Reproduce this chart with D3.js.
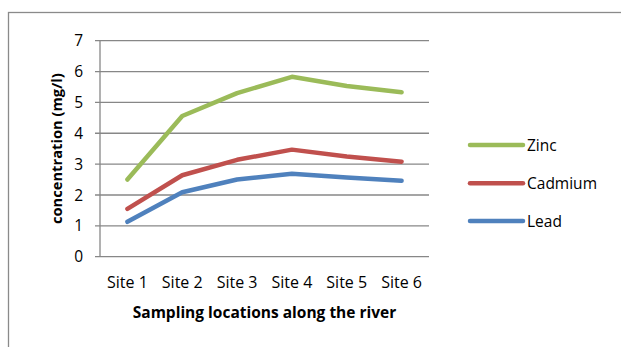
<!DOCTYPE html>
<html><head><meta charset="utf-8">
<script src="https://cdn.jsdelivr.net/npm/d3@7"></script>
<style>body{margin:0;background:#fff}svg{display:block}text{font-family:"Open Sans",sans-serif;fill:#000}</style>
</head><body><svg id="c" width="621" height="347"></svg>
<script>
const categories = ["Site 1","Site 2","Site 3","Site 4","Site 5","Site 6"];
const zinc    = [2.50, 4.56, 5.30, 5.83, 5.53, 5.33];
const cadmium = [1.55, 2.64, 3.14, 3.47, 3.25, 3.08];
const lead    = [1.13, 2.09, 2.50, 2.69, 2.57, 2.46];
const yTicks  = [0,1,2,3,4,5,6,7];
const seriesNames  = ["Zinc","Cadmium","Lead"];
const seriesColors = ["#9BBB59","#C0504D","#4F81BD"];
const seriesValues = [zinc, cadmium, lead];

const svg = d3.select("#c");
const grid = "#878787";
svg.append("rect").attr("x",8.5).attr("y",12.5).attr("width",800).attr("height",500)
  .attr("fill","none").attr("stroke","#8a8a8a").attr("stroke-width",1.3);

const L=100, R=429, T=40.7, B=256.7;
const x = d3.scaleBand().domain(categories).range([L,R]);
const y = d3.scaleLinear().domain([0,7]).range([B,T]);

svg.append("g").selectAll("line").data(yTicks).join("line")
  .attr("x1",L-5).attr("x2",R).attr("y1",d=>y(d)).attr("y2",d=>y(d))
  .attr("stroke",grid).attr("stroke-width",1.3);
svg.append("line").attr("x1",L).attr("x2",L).attr("y1",T).attr("y2",B)
  .attr("stroke",grid).attr("stroke-width",1.3);

svg.append("g").selectAll("text").data(yTicks).join("text")
  .attr("x",83).attr("y",d=>y(d)).attr("dy","0.36em").attr("text-anchor","end")
  .style("font-size","15.5px").text(d=>d);

svg.append("g").selectAll("text").data(categories).join("text")
  .attr("x",d=>x(d)+x.bandwidth()/2).attr("y",282).attr("dy","0.36em").attr("text-anchor","middle")
  .style("font-size","16px").text(d=>d);

svg.append("text").attr("x",(L+R)/2).attr("y",312).attr("dy","0.36em").attr("text-anchor","middle")
  .style("font-size","15.5px").style("font-weight","bold").text("Sampling locations along the river");
svg.append("text").attr("transform",`translate(57,${(T+B)/2}) rotate(-90)`).attr("dy","0.36em")
  .attr("text-anchor","middle").style("font-size","14.7px").style("font-weight","bold")
  .text("concentration (mg/l)");

const line = d3.line().x((d,i)=>x(categories[i])+x.bandwidth()/2).y(d=>y(d));
seriesValues.forEach((vals,k)=>{
  svg.append("path").attr("d",line(vals)).attr("fill","none")
    .attr("stroke",seriesColors[k]).attr("stroke-width",4.5)
    .attr("stroke-linecap","round").attr("stroke-linejoin","round");
});

const legY = [145,183.3,221];
seriesNames.forEach((n,k)=>{
  svg.append("line").attr("x1",470).attr("x2",523).attr("y1",legY[k]).attr("y2",legY[k])
    .attr("stroke",seriesColors[k]).attr("stroke-width",4.5).attr("stroke-linecap","round");
  svg.append("text").attr("x",527).attr("y",legY[k]).attr("dy","0.36em")
    .style("font-size","15.5px").text(n);
});
</script></body></html>
